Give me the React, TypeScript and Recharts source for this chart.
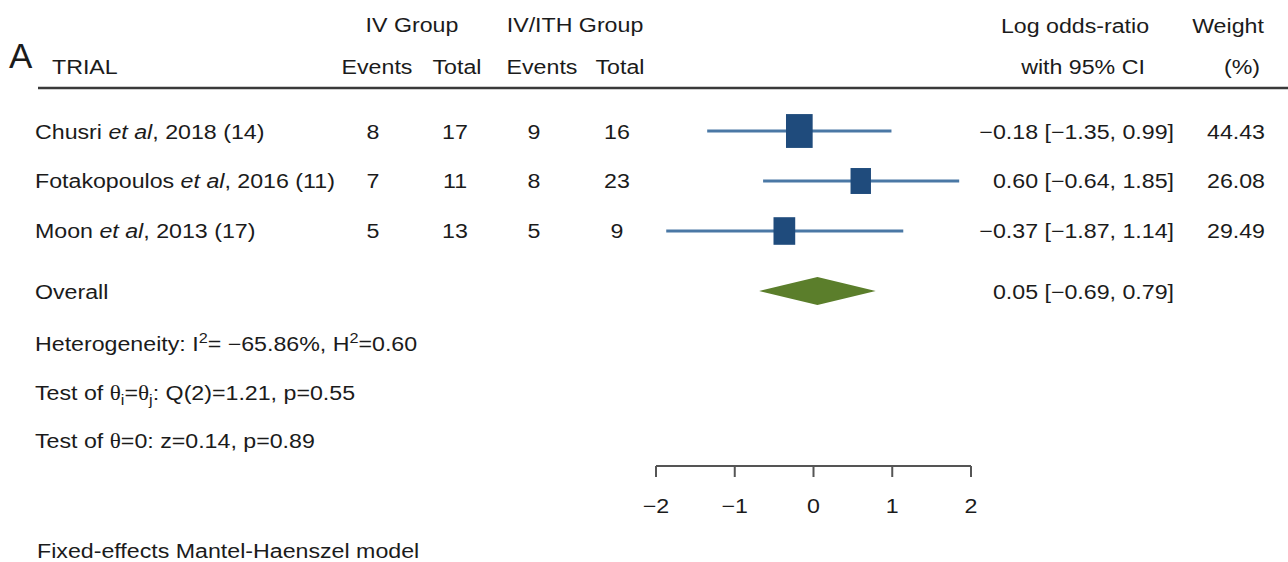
import React from 'react';
import { ComposedChart, Scatter, ErrorBar, XAxis, YAxis, ReferenceArea } from 'recharts';

// study rows
const trialNames = ['Chusri', 'Fotakopoulos', 'Moon'];
const trialYears = [2018, 2016, 2013];
const trialRefs = [14, 11, 17];
const ivEvents = [8, 7, 5];
const ivTotal = [17, 11, 13];
const ithEvents = [9, 8, 5];
const ithTotal = [16, 23, 9];
const logOR = [-0.18, 0.6, -0.37];
const ciLow = [-1.35, -0.64, -1.87];
const ciHigh = [0.99, 1.85, 1.14];
const weights = [44.43, 26.08, 29.49];

// pooled estimate
const overallOR = 0.05;
const overallLow = -0.69;
const overallHigh = 0.79;

const xTicks = [-2, -1, 0, 1, 2];

const FONT = '"Liberation Sans", Arial, Helvetica, sans-serif';
const SYMBOL_FONT = '"Liberation Serif", "DejaVu Serif", serif';
const TEXT = '#1b1b1b';
const LINE_BLUE = '#4a78a5';
const BOX_BLUE = '#1f4b7c';
const DIAMOND_GREEN = '#5b7e2b';
const STRETCH = 1.16; // figure text is set slightly wide

const OVERALL_ROW = 3.2;
const rowBaselines = [139, 188, 238];

const fmt = (v: number) => (v < 0 ? '\u2212' : '') + Math.abs(v).toFixed(2);
const ciText = (est: number, lo: number, hi: number) => `${fmt(est)} [${fmt(lo)}, ${fmt(hi)}]`;

const studyData = trialNames.map((name, i) => ({
  name,
  x: logOR[i],
  y: i,
  w: weights[i],
  err: [logOR[i] - ciLow[i], ciHigh[i] - logOR[i]],
}));

// text anchored at (x, y) and widened around that anchor
function T({ x, y, anchor = 'start', size = 20, children }: any) {
  return (
    <text
      transform={`translate(${x} ${y}) scale(${STRETCH} 1)`}
      textAnchor={anchor}
      fill={TEXT}
      fontSize={size}
      fontFamily={FONT}
    >
      {children}
    </text>
  );
}

const WeightBox = (props: any) => {
  const { cx, cy, payload } = props;
  const w = 4 * Math.sqrt(payload.w);
  const h = w * 1.27;
  return <rect x={cx - w / 2} y={cy - h / 2} width={w} height={h} fill={BOX_BLUE} />;
};

const Diamond = (props: any) => {
  const { x, y, width, height } = props;
  const pts = [
    [x, y + height / 2],
    [x + width / 2, y],
    [x + width, y + height / 2],
    [x + width / 2, y + height],
  ]
    .map((p) => p.join(','))
    .join(' ');
  return <polygon points={pts} fill={DIAMOND_GREEN} />;
};

const AxisTick = (props: any) => {
  const { x, y, payload } = props;
  const v = payload.value as number;
  return (
    <T x={x} y={y + 16} anchor="middle">
      {v < 0 ? '\u2212' + Math.abs(v) : String(v)}
    </T>
  );
};

function TableText() {
  return (
    <g>
      <text x={9} y={68} fill={TEXT} fontSize={35} fontFamily={FONT}>A</text>
      <T x={52} y={74}>TRIAL</T>

      <T x={412} y={32} anchor="middle">IV Group</T>
      <T x={575} y={32} anchor="middle">IV/ITH Group</T>
      <T x={377} y={74} anchor="middle">Events</T>
      <T x={457} y={74} anchor="middle">Total</T>
      <T x={542} y={74} anchor="middle">Events</T>
      <T x={620} y={74} anchor="middle">Total</T>

      <T x={1075} y={33} anchor="middle">Log odds-ratio</T>
      <T x={1083} y={74} anchor="middle">with 95% CI</T>
      <T x={1228} y={33} anchor="middle">Weight</T>
      <T x={1242} y={74} anchor="middle">(%)</T>

      <line x1={38} y1={88} x2={1288} y2={88} stroke="#3a3a3a" strokeWidth={2.5} />

      {trialNames.map((name, i) => (
        <g key={name}>
          <T x={35} y={rowBaselines[i]}>
            {name} <tspan fontStyle="italic">et al</tspan>, {trialYears[i]} ({trialRefs[i]})
          </T>
          <T x={373} y={rowBaselines[i]} anchor="middle">{ivEvents[i]}</T>
          <T x={455} y={rowBaselines[i]} anchor="middle">{ivTotal[i]}</T>
          <T x={534} y={rowBaselines[i]} anchor="middle">{ithEvents[i]}</T>
          <T x={617} y={rowBaselines[i]} anchor="middle">{ithTotal[i]}</T>
          <T x={1174} y={rowBaselines[i]} anchor="end">{ciText(logOR[i], ciLow[i], ciHigh[i])}</T>
          <T x={1207} y={rowBaselines[i]}>{weights[i].toFixed(2)}</T>
        </g>
      ))}

      <T x={35} y={299}>Overall</T>
      <T x={1174} y={299} anchor="end">{ciText(overallOR, overallLow, overallHigh)}</T>

      <T x={35} y={351}>
        Heterogeneity: I<tspan dy={-8} fontSize={14}>2</tspan>
        <tspan dy={8}>= {'\u2212'}65.86%, H</tspan>
        <tspan dy={-8} fontSize={14}>2</tspan>
        <tspan dy={8}>=0.60</tspan>
      </T>
      <T x={35} y={400}>
        Test of <tspan fontFamily={SYMBOL_FONT}>θ</tspan>
        <tspan dy={5} fontSize={14}>i</tspan>
        <tspan dy={-5}>=</tspan>
        <tspan fontFamily={SYMBOL_FONT}>θ</tspan>
        <tspan dy={5} fontSize={14}>j</tspan>
        <tspan dy={-5}>: Q(2)=1.21, p=0.55</tspan>
      </T>
      <T x={35} y={448}>
        Test of <tspan fontFamily={SYMBOL_FONT}>θ</tspan>=0: z=0.14, p=0.89
      </T>

      <T x={37} y={558}>Fixed-effects Mantel-Haenszel model</T>
    </g>
  );
}

export default function App() {
  return (
    <div style={{ position: 'absolute', left: 0, top: 0, width: 1288, height: 562, background: '#fff' }}>
      <ComposedChart
        width={1288}
        height={562}
        data={studyData}
        margin={{ top: 81, right: 317, bottom: 36, left: 656 }}
        style={{ fontFamily: FONT }}
      >
        <XAxis
          dataKey="x"
          type="number"
          domain={[-2, 2]}
          allowDataOverflow
          ticks={xTicks}
          height={60}
          tickSize={11}
          tickMargin={20}
          axisLine={{ stroke: '#555', strokeWidth: 2 }}
          tickLine={{ stroke: '#555', strokeWidth: 2 }}
          tick={<AxisTick />}
        />
        <YAxis dataKey="y" type="number" domain={[-1, 6.7]} allowDataOverflow reversed hide width={0} />
        <ReferenceArea
          x1={overallLow}
          x2={overallHigh}
          y1={OVERALL_ROW - 0.28}
          y2={OVERALL_ROW + 0.28}
          shape={Diamond}
          ifOverflow="visible"
        />
        <Scatter data={studyData} shape={WeightBox} isAnimationActive={false}>
          <ErrorBar
            dataKey="err"
            direction="x"
            width={0}
            stroke={LINE_BLUE}
            strokeWidth={3}
            isAnimationActive={false}
          />
        </Scatter>
        <TableText />
      </ComposedChart>
    </div>
  );
}
